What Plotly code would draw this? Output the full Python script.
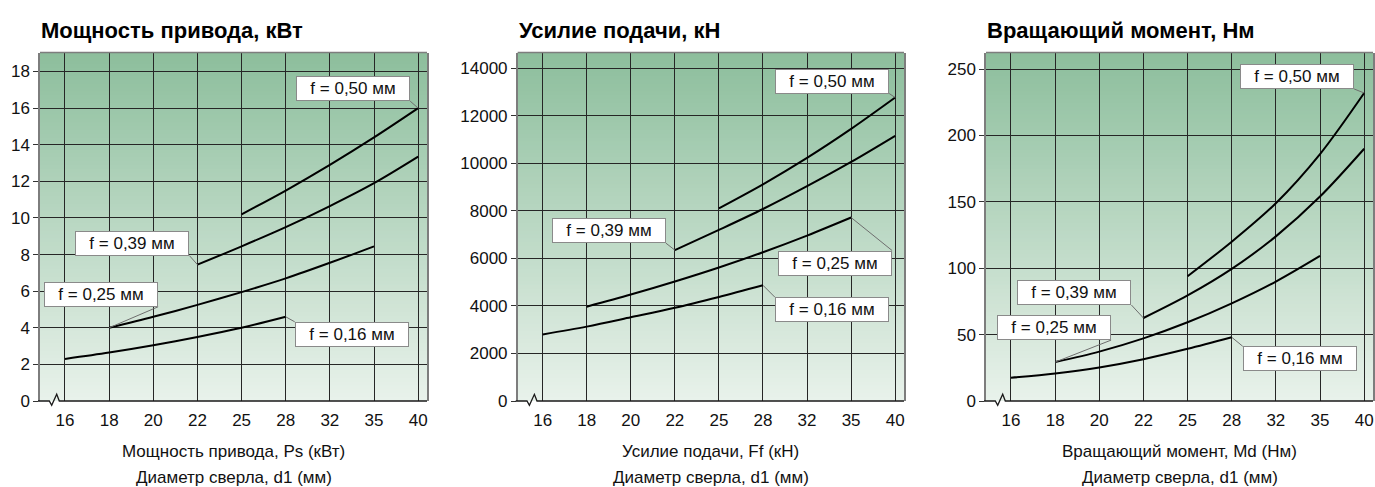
import plotly.graph_objects as go

# Drill diameters d1 (mm), equally spaced categories
diameters = ["16", "18", "20", "22", "25", "28", "32", "35", "40"]

# Feed values, labels of the curves
feeds = ["f = 0,16 мм", "f = 0,25 мм", "f = 0,39 мм", "f = 0,50 мм"]

# Diameter spans covered by each feed curve
span_016 = diameters[0:6]
span_025 = diameters[1:8]
span_039 = diameters[3:9]
span_050 = diameters[4:9]

# Drive power Ps, kW
power_016 = [2.3, 2.65, 3.05, 3.5, 4.0, 4.6]
power_025 = [4.0, 4.6, 5.25, 5.95, 6.7, 7.55, 8.45]
power_039 = [7.45, 8.45, 9.5, 10.65, 11.9, 13.35]
power_050 = [10.2, 11.5, 12.9, 14.4, 16.0]

# Feed force Ff, kN
force_016 = [2800, 3130, 3520, 3920, 4380, 4870]
force_025 = [3970, 4480, 5030, 5620, 6260, 6960, 7720]
force_039 = [6350, 7200, 8080, 9040, 10060, 11160]
force_050 = [8110, 9120, 10230, 11450, 12770]

# Torque Md, Nm
torque_016 = [17.5, 20.8, 25.3, 31.5, 39.3, 48.0]
torque_025 = [29.3, 37.2, 47.2, 59.3, 73.6, 90.0, 109.3]
torque_039 = [62.5, 79.5, 99.5, 124.0, 154.0, 190.0]
torque_050 = [94.0, 120.0, 149.0, 186.0, 232.0]

titles = ["Мощность привода, кВт", "Усилие подачи, кН", "Вращающий момент, Нм"]
axis_titles = ["Мощность привода, Ps (кВт)", "Усилие подачи, Ff (кН)", "Вращающий момент, Md (Нм)"]
axis_subtitle = "Диаметр сверла, d1 (мм)"

W, H = 1375, 487
panels_px = [(40, 427), (517.7, 904), (986, 1373)]
plot_top, plot_bottom = 52.5, 401
y_ranges = [(0, 19.04), (0, 14665), (0, 262.5)]
y_dticks = [2, 2000, 50]
x_range = (-0.566, 8.2)

FONT = "Liberation Sans, Arial, Helvetica, sans-serif"
GRID = "#262626"
BORDER = "#7d7d7d"
TOP_RGB = (140, 190, 156)
BOTTOM_RGB = (233, 242, 235)

series = [
    [(span_016, power_016), (span_025, power_025), (span_039, power_039), (span_050, power_050)],
    [(span_016, force_016), (span_025, force_025), (span_039, force_039), (span_050, force_050)],
    [(span_016, torque_016), (span_025, torque_025), (span_039, torque_039), (span_050, torque_050)],
]

# Label box placement per panel and curve: which end of the curve it points to,
# the box corner anchored, and the pixel offset from the curve end to that corner
label_layout = [
    [("end", "left", "top", 9, -5), ("start", "right", "bottom", 49, 21),
     ("start", "right", "bottom", -8, 9), ("end", "right", "bottom", -8, 7)],
    [("end", "left", "top", 12, -12), ("end", "right", "top", 41, -33),
     ("start", "right", "bottom", -9, 7), ("end", "right", "bottom", -6, 4)],
    [("end", "left", "top", 11, -9), ("start", "right", "bottom", 56, 22),
     ("start", "right", "bottom", -12, 13), ("end", "right", "bottom", -10, 4)],
]

fig = go.Figure()
shapes = []
annotations = []


def lerp_color(t):
    r = [round(b + (a - b) * t) for a, b in zip(TOP_RGB, BOTTOM_RGB)]
    return f"rgb({r[0]},{r[1]},{r[2]})"


def px_to_paper(x, y):
    return x / W, 1 - y / H


n_bands = 90
for p in range(3):
    suffix = "" if p == 0 else str(p + 1)
    xa, ya = "x" + suffix, "y" + suffix
    x0px, x1px = panels_px[p]

    # vertical gradient background
    for i in range(n_bands):
        shapes.append(dict(
            type="rect", xref=f"{xa} domain", yref=f"{ya} domain",
            x0=0, x1=1, y0=i / n_bands, y1=min(1, (i + 1) / n_bands + 0.004),
            fillcolor=lerp_color((i + 0.5) / n_bands), line=dict(width=0), layer="below",
        ))

    # curves with their label boxes and leader lines
    for k, (xs, ys) in enumerate(series[p]):
        xi = [diameters.index(v) for v in xs]
        fig.add_trace(go.Scatter(
            x=xi, y=ys, mode="lines", xaxis=xa, yaxis=ya,
            line=dict(color="#000000", width=2, shape="spline", smoothing=0.9),
            hoverinfo="skip", showlegend=False,
        ))
        which, xanc, yanc, dx, dy = label_layout[p][k]
        j = 0 if which == "start" else -1
        px, py = xi[j], ys[j]
        annotations.append(dict(
            x=px, y=py, xref=xa, yref=ya, text=feeds[k], showarrow=False,
            xanchor=xanc, yanchor=yanc, xshift=dx, yshift=dy,
            width=110, height=21, align="center", valign="middle",
            bgcolor="#ffffff", bordercolor="#8a8a8a", borderwidth=1, borderpad=1,
            font=dict(family=FONT, size=17, color="#111111"),
        ))
        shapes.append(dict(
            type="line", xref=xa, yref=ya, xsizemode="pixel", ysizemode="pixel",
            xanchor=px, yanchor=py, x0=0, y0=0, x1=dx, y1=dy,
            line=dict(color="#6e6e6e", width=1), layer="above",
        ))

    # top border
    shapes.append(dict(
        type="line", xref=f"{xa} domain", yref=f"{ya} domain", x0=0, x1=1, y0=1, y1=1,
        line=dict(color=BORDER, width=1.5), layer="above",
    ))
    # bottom axis line with the axis-break mark near the origin
    pts = [(x0px - 2, plot_bottom), (x0px + 9.3, plot_bottom), (x0px + 11.7, plot_bottom + 4.3),
           (x0px + 16.7, plot_bottom - 6.7), (x0px + 19.3, plot_bottom), (x1px, plot_bottom)]
    path = ""
    for n, (a, b) in enumerate(pts):
        u, v = px_to_paper(a, b)
        path += ("M" if n == 0 else " L") + f" {u:.5f},{v:.5f}"
    shapes.append(dict(
        type="path", xref="paper", yref="paper", path=path,
        line=dict(color="#1a1a1a", width=1.3), layer="above",
    ))

    dom_x = [x0px / W, x1px / W]
    dom_y = [1 - plot_bottom / H, 1 - plot_top / H]
    fig.update_layout(**{
        f"xaxis{suffix}": dict(
            domain=dom_x, range=list(x_range), anchor=ya,
            tickmode="array", tickvals=list(range(len(diameters))), ticktext=diameters,
            showgrid=True, gridcolor=GRID, gridwidth=1, zeroline=False,
            showline=False, ticks="", ticklabelstandoff=7,
            tickfont=dict(family=FONT, size=17, color="#111111"),
        ),
        f"yaxis{suffix}": dict(
            domain=dom_y, range=list(y_ranges[p]), anchor=xa,
            tickmode="linear", tick0=0, dtick=y_dticks[p], tickformat="d",
            showgrid=True, gridcolor=GRID, gridwidth=1, zeroline=False,
            showline=True, linecolor=BORDER, linewidth=1.5, mirror=True,
            ticks="outside", ticklen=5, tickcolor="#333333", tickwidth=1,
            tickfont=dict(family=FONT, size=17, color="#111111"),
        ),
    })

    # panel title
    annotations.append(dict(
        xref="paper", yref="paper", x=(x0px - 1) / W, y=1 - 30 / H,
        xanchor="left", yanchor="middle", showarrow=False, text=f"<b>{titles[p]}</b>",
        font=dict(family=FONT, size=22, color="#000000"),
    ))
    # axis titles (two lines)
    cx = (x0px + x1px) / 2 / W
    annotations.append(dict(
        xref="paper", yref="paper", x=cx, y=1 - 451 / H, xanchor="center", yanchor="middle",
        showarrow=False, text=axis_titles[p], font=dict(family=FONT, size=17, color="#111111"),
    ))
    annotations.append(dict(
        xref="paper", yref="paper", x=cx, y=1 - 477 / H, xanchor="center", yanchor="middle",
        showarrow=False, text=axis_subtitle, font=dict(family=FONT, size=17, color="#111111"),
    ))

fig.update_layout(
    width=W, height=H, margin=dict(l=0, r=0, t=0, b=0, autoexpand=False),
    paper_bgcolor="#ffffff", plot_bgcolor="rgba(0,0,0,0)",
    showlegend=False, hovermode=False,
    shapes=shapes, annotations=annotations,
)

fig.write_html("out.html")
